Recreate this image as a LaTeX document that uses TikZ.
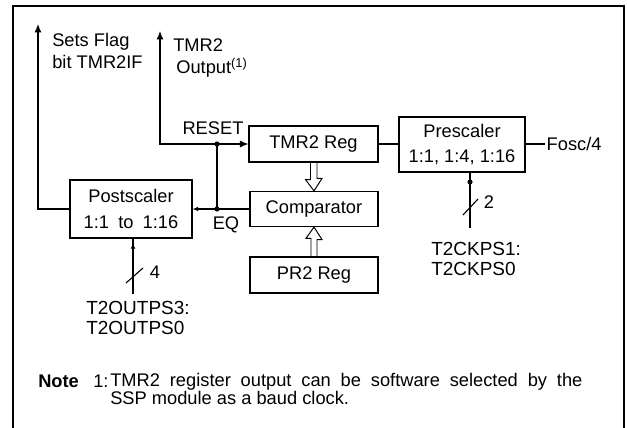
\documentclass[tikz,border=0pt]{standalone}
\usepackage{fontspec}
\setmainfont{Liberation Sans}
\usetikzlibrary{arrows.meta,positioning,calc}
\tikzset{
  blk/.style={draw,line width=0.8pt,inner sep=1pt,align=center},
  wire/.style={line width=0.8pt},
  sig/.style={wire,-{Latex[length=6pt,width=5pt]}},
  smallsig/.style={wire,-{Latex[length=4pt,width=3.5pt]}},
  jdot/.style={circle,fill,inner sep=1.3pt},
  hollow/.style={line width=0.7pt,line join=miter},
  lab/.style={inner sep=0pt,align=left,anchor=west},
  ctl/.style={lab,font=\fontsize{13.5}{14}\selectfont},
}

\begin{document}
\begin{tikzpicture}[x=0.025cm,y=-0.025cm,font=\fontsize{13}{15.5}\selectfont]
  \useasboundingbox (0,0) rectangle (627,428);
  % frame
  \draw[wire] (13,428) -- (13,6) -- (624,6) -- (624,428);

  % blocks
  \node[blk,minimum width=3.05cm,minimum height=1.45cm] (post) at (131,209)
    {Postscaler\\[3pt]1:1\enspace to\enspace 1:16};
  \node[blk,minimum width=3.225cm,minimum height=0.9cm] (tmr) at (313.5,144) {TMR2 Reg};
  \node[blk,minimum width=3.2cm,minimum height=0.875cm] (comp) at (314,209) {Comparator};
  \node[blk,minimum width=3.2cm,minimum height=0.9cm] (pr2) at (314,275) {PR2 Reg};
  \node[blk,minimum width=3.15cm,minimum height=1.375cm] (pre) at (462,144.5)
    {Prescaler\\[2pt]1:1, 1:4, 1:16};
  \node[lab,inner sep=1pt] (fosc) at (545,144) {Fosc/4};

  % clock path
  \draw[wire] (tmr.east) -- (tmr.east -| pre.west);
  \draw[wire] (pre.east |- fosc.west) -- (fosc.west);

  % EQ / RESET
  \coordinate (jq) at (217,209);
  \coordinate (jr) at (217,144);
  \coordinate (outtip) at (160,31);
  \coordinate (flagtip) at (38,24);
  \draw[smallsig] (comp.west) -- (post.east);
  \draw[wire] (jq) -- (jr);
  \draw[sig] (jr) -- (tmr.west);
  \draw[sig] (jr) -| (outtip);
  \draw[sig] (post.west) -| (flagtip);
  \node[jdot] at (jq) {};
  \node[jdot] at (jr) {};
  \node (rst) at (213,128) {RESET};
  \node (eq) at (226,225) {EQ};

  % hollow arrows into comparator
  \draw[hollow] ($(tmr.south)+(-3,0)$) -- ++(0,17) -- ++(-5,0) -- (comp.north)
    -- ++(8,-12.5) -- ++(-5,0) -- ++(0,-17);
  \draw[hollow] ($(pr2.north)+(-3,0)$) -- ++(0,-18) -- ++(-5,0) -- (comp.south)
    -- ++(8,12.5) -- ++(-5,0) -- ++(0,18);

  % outputs
  \node[lab] (flaglab) at (52,51) {Sets Flag\\bit TMR2IF};
  \node[lab] (outlab) at (173,58) {TMR2\\\,Output\textsuperscript{(1)}};

  % postscaler select
  \coordinate (psel) at (133,294);
  \draw[wire] (psel) -- (psel |- post.south);
  \draw[smallsig] (psel) -- (133,243);
  \draw[wire] ($(psel)+(-7,-11)$) -- ++(17,-15);
  \node (pn) at (155,272) {4};
  \node[ctl] (plab) at (86,318) {T2OUTPS3:\\T2OUTPS0};

  % prescaler select
  \coordinate (csel) at (470,228);
  \draw[wire] (csel) -- (csel |- pre.south);
  \node[jdot] at (470,182) {};
  \draw[wire] ($(csel)+(-7,-13)$) -- ++(15,-16);
  \node (cn) at (489,202) {2};
  \node[ctl] (clab) at (431,259) {T2CKPS1:\\T2CKPS0};

  % note
  \node[lab] (nt) at (38,381) {\textbf{Note}};
  \node[lab] (nn) at (93,381) {1:};
  \node[lab,anchor=north west,font=\fontsize{13}{12.8}\selectfont] (ntext) at (110,373)
    {\makebox[11.8cm][s]{TMR2 register output can be software selected by the}\\
     SSP module as a baud clock.};
\end{tikzpicture}
\end{document}
